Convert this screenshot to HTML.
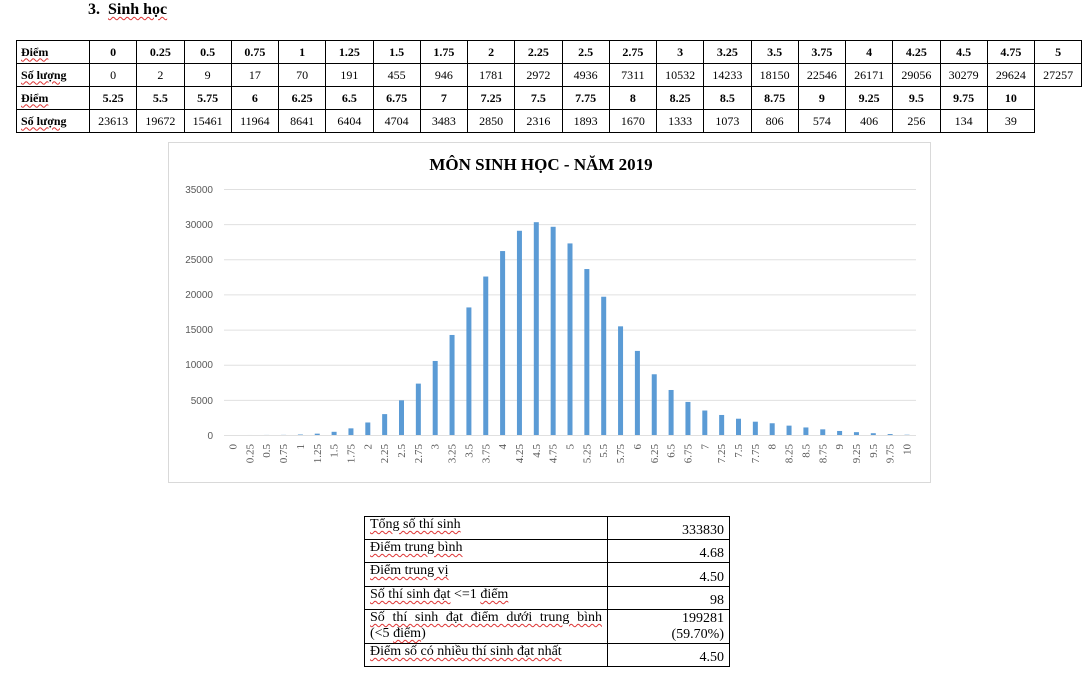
<!DOCTYPE html>
<html><head><meta charset="utf-8"><style>
body{margin:0;width:1088px;height:675px;background:#fff;position:relative;overflow:hidden;font-family:"Liberation Serif",serif;color:#000}
.sp{text-decoration:underline wavy #d33;text-decoration-thickness:1px;text-underline-offset:2px}
#h{position:absolute;left:88px;top:1px;font-size:16px;font-weight:bold}
#t1{position:absolute;left:16px;top:40px;border-collapse:collapse;table-layout:fixed;font-size:12px}
#t1 td{border:1px solid #000;text-align:center;padding:0;height:22px;width:46.25px}
#t1 td:first-child{width:68px;text-align:left;padding-left:4px;font-weight:bold}
#t1 tr.b td{font-weight:bold}
#t1 td.n{border:none}
#t2{position:absolute;left:364px;top:516px;border-collapse:collapse;font-size:14px}
#t2 td{border:1px solid #000;padding:0 5px;vertical-align:bottom;line-height:16px}
#t2 td.r{text-align:right;width:111px}
#t2 td.l{width:232px;text-align:justify;text-align-last:auto;vertical-align:top}
</style></head><body>
<div id="h">3.&nbsp; <span class="sp">Sinh học</span></div>
<table id="t1">
<tr class="b"><td><span class="sp">Điểm</span></td><td>0</td><td>0.25</td><td>0.5</td><td>0.75</td><td>1</td><td>1.25</td><td>1.5</td><td>1.75</td><td>2</td><td>2.25</td><td>2.5</td><td>2.75</td><td>3</td><td>3.25</td><td>3.5</td><td>3.75</td><td>4</td><td>4.25</td><td>4.5</td><td>4.75</td><td>5</td></tr>
<tr><td><span class="sp">Số lượng</span></td><td>0</td><td>2</td><td>9</td><td>17</td><td>70</td><td>191</td><td>455</td><td>946</td><td>1781</td><td>2972</td><td>4936</td><td>7311</td><td>10532</td><td>14233</td><td>18150</td><td>22546</td><td>26171</td><td>29056</td><td>30279</td><td>29624</td><td>27257</td></tr>
<tr class="b"><td><span class="sp">Điểm</span></td><td>5.25</td><td>5.5</td><td>5.75</td><td>6</td><td>6.25</td><td>6.5</td><td>6.75</td><td>7</td><td>7.25</td><td>7.5</td><td>7.75</td><td>8</td><td>8.25</td><td>8.5</td><td>8.75</td><td>9</td><td>9.25</td><td>9.5</td><td>9.75</td><td>10</td><td class="n"></td></tr>
<tr><td><span class="sp">Số lượng</span></td><td>23613</td><td>19672</td><td>15461</td><td>11964</td><td>8641</td><td>6404</td><td>4704</td><td>3483</td><td>2850</td><td>2316</td><td>1893</td><td>1670</td><td>1333</td><td>1073</td><td>806</td><td>574</td><td>406</td><td>256</td><td>134</td><td>39</td><td class="n"></td></tr>
</table>
<svg style="position:absolute;left:0;top:0" width="1088" height="675">
<rect x="168.5" y="142.5" width="762" height="340" fill="#fff" stroke="#d9d9d9"/>
<text x="541" y="170" text-anchor="middle" font-family="Liberation Serif" font-weight="bold" font-size="17">MÔN SINH HỌC - NĂM 2019</text>
<g stroke="#e0e0e0" stroke-width="1">
<line x1="224" x2="916" y1="189.5" y2="189.5"/><line x1="224" x2="916" y1="224.6" y2="224.6"/><line x1="224" x2="916" y1="259.8" y2="259.8"/><line x1="224" x2="916" y1="294.9" y2="294.9"/><line x1="224" x2="916" y1="330.1" y2="330.1"/><line x1="224" x2="916" y1="365.2" y2="365.2"/><line x1="224" x2="916" y1="400.4" y2="400.4"/><line x1="224" x2="916" y1="435.5" y2="435.5"/>
</g>
<g font-family="Liberation Sans" font-size="10" fill="#595959" text-anchor="end">
<text x="213" y="193">35000</text><text x="213" y="228">30000</text><text x="213" y="263">25000</text><text x="213" y="298">20000</text><text x="213" y="333">15000</text><text x="213" y="368">10000</text><text x="213" y="404">5000</text><text x="213" y="439">0</text>
</g>
<g transform="translate(0,435) scale(1,-0.0070286)" fill="#5b9bd5">
<rect x="230.5" y="0" width="5" height="0"/><rect x="247.35" y="0" width="5" height="2"/><rect x="264.2" y="0" width="5" height="9"/><rect x="281.05" y="0" width="5" height="17"/><rect x="297.9" y="0" width="5" height="70"/><rect x="314.75" y="0" width="5" height="191"/><rect x="331.6" y="0" width="5" height="455"/><rect x="348.45" y="0" width="5" height="946"/><rect x="365.3" y="0" width="5" height="1781"/><rect x="382.15" y="0" width="5" height="2972"/><rect x="399" y="0" width="5" height="4936"/><rect x="415.85" y="0" width="5" height="7311"/><rect x="432.7" y="0" width="5" height="10532"/><rect x="449.55" y="0" width="5" height="14233"/><rect x="466.4" y="0" width="5" height="18150"/><rect x="483.25" y="0" width="5" height="22546"/><rect x="500.1" y="0" width="5" height="26171"/><rect x="516.95" y="0" width="5" height="29056"/><rect x="533.8" y="0" width="5" height="30279"/><rect x="550.65" y="0" width="5" height="29624"/><rect x="567.5" y="0" width="5" height="27257"/><rect x="584.35" y="0" width="5" height="23613"/><rect x="601.2" y="0" width="5" height="19672"/><rect x="618.05" y="0" width="5" height="15461"/><rect x="634.9" y="0" width="5" height="11964"/><rect x="651.75" y="0" width="5" height="8641"/><rect x="668.6" y="0" width="5" height="6404"/><rect x="685.45" y="0" width="5" height="4704"/><rect x="702.3" y="0" width="5" height="3483"/><rect x="719.15" y="0" width="5" height="2850"/><rect x="736" y="0" width="5" height="2316"/><rect x="752.85" y="0" width="5" height="1893"/><rect x="769.7" y="0" width="5" height="1670"/><rect x="786.55" y="0" width="5" height="1333"/><rect x="803.4" y="0" width="5" height="1073"/><rect x="820.25" y="0" width="5" height="806"/><rect x="837.1" y="0" width="5" height="574"/><rect x="853.95" y="0" width="5" height="406"/><rect x="870.8" y="0" width="5" height="256"/><rect x="887.65" y="0" width="5" height="134"/><rect x="904.5" y="0" width="5" height="39"/>
</g>
<g font-family="Liberation Serif" font-size="11" fill="#595959" text-anchor="end">
<text transform="translate(236.5,444) rotate(-90)">0</text><text transform="translate(253.35,444) rotate(-90)">0.25</text><text transform="translate(270.2,444) rotate(-90)">0.5</text><text transform="translate(287.05,444) rotate(-90)">0.75</text><text transform="translate(303.9,444) rotate(-90)">1</text><text transform="translate(320.75,444) rotate(-90)">1.25</text><text transform="translate(337.6,444) rotate(-90)">1.5</text><text transform="translate(354.45,444) rotate(-90)">1.75</text><text transform="translate(371.3,444) rotate(-90)">2</text><text transform="translate(388.15,444) rotate(-90)">2.25</text><text transform="translate(405,444) rotate(-90)">2.5</text><text transform="translate(421.85,444) rotate(-90)">2.75</text><text transform="translate(438.7,444) rotate(-90)">3</text><text transform="translate(455.55,444) rotate(-90)">3.25</text><text transform="translate(472.4,444) rotate(-90)">3.5</text><text transform="translate(489.25,444) rotate(-90)">3.75</text><text transform="translate(506.1,444) rotate(-90)">4</text><text transform="translate(522.95,444) rotate(-90)">4.25</text><text transform="translate(539.8,444) rotate(-90)">4.5</text><text transform="translate(556.65,444) rotate(-90)">4.75</text><text transform="translate(573.5,444) rotate(-90)">5</text><text transform="translate(590.35,444) rotate(-90)">5.25</text><text transform="translate(607.2,444) rotate(-90)">5.5</text><text transform="translate(624.05,444) rotate(-90)">5.75</text><text transform="translate(640.9,444) rotate(-90)">6</text><text transform="translate(657.75,444) rotate(-90)">6.25</text><text transform="translate(674.6,444) rotate(-90)">6.5</text><text transform="translate(691.45,444) rotate(-90)">6.75</text><text transform="translate(708.3,444) rotate(-90)">7</text><text transform="translate(725.15,444) rotate(-90)">7.25</text><text transform="translate(742,444) rotate(-90)">7.5</text><text transform="translate(758.85,444) rotate(-90)">7.75</text><text transform="translate(775.7,444) rotate(-90)">8</text><text transform="translate(792.55,444) rotate(-90)">8.25</text><text transform="translate(809.4,444) rotate(-90)">8.5</text><text transform="translate(826.25,444) rotate(-90)">8.75</text><text transform="translate(843.1,444) rotate(-90)">9</text><text transform="translate(859.95,444) rotate(-90)">9.25</text><text transform="translate(876.8,444) rotate(-90)">9.5</text><text transform="translate(893.65,444) rotate(-90)">9.75</text><text transform="translate(910.5,444) rotate(-90)">10</text>
</g>
</svg>
<table id="t2">
<tr style="height:23px"><td class="l"><span class="sp">Tổng số thí sinh</span></td><td class="r">333830</td></tr>
<tr style="height:23px"><td class="l"><span class="sp">Điểm trung bình</span></td><td class="r">4.68</td></tr>
<tr style="height:24px"><td class="l"><span class="sp">Điểm trung vị</span></td><td class="r">4.50</td></tr>
<tr style="height:23px"><td class="l"><span class="sp">Số thí sinh đạt</span> &lt;=1 <span class="sp">điểm</span></td><td class="r">98</td></tr>
<tr style="height:34px"><td class="l"><div style="text-align:justify;text-align-last:justify"><span class="sp">Số thí sinh đạt điểm dưới trung bình</span></div><div>(&lt;5 <span class="sp">điểm</span>)</div></td><td class="r">199281<br>(59.70%)</td></tr>
<tr style="height:23px"><td class="l"><span class="sp">Điểm số có nhiều thí sinh đạt nhất</span></td><td class="r">4.50</td></tr>
</table>
</body></html>
